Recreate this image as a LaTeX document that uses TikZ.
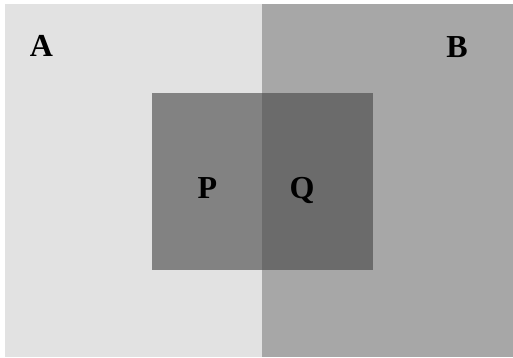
\documentclass[tikz,border=0pt]{standalone}
\usepackage{fontspec}
\setmainfont{Liberation Serif}
\definecolor{lightside}{gray}{0.885}
\definecolor{darkside}{gray}{0.655}
\definecolor{pcol}{gray}{0.51}
\definecolor{qcol}{gray}{0.42}
\begin{document}
\begin{tikzpicture}[x=1pt,y=1pt,
  lbl/.style={inner sep=0pt, anchor=base, font=\bfseries\fontsize{32}{32}\selectfont, text=black}]
\useasboundingbox (0,0) rectangle (513,358);
\fill[white] (0,0) rectangle (513,358);
\fill[lightside] (5,1) rectangle (262,354);
\fill[darkside] (262,1) rectangle (513,354);
\fill[pcol] (152,88) rectangle (262,265);
\fill[qcol] (262,88) rectangle (373,265);
\node[lbl] (A) at (41.5,301) {A};
\node[lbl] (B) at (457,300) {B};
\node[lbl] (P) at (207.5,159) {P};
\node[lbl] (Q) at (302,159) {Q};
\end{tikzpicture}
\end{document}
